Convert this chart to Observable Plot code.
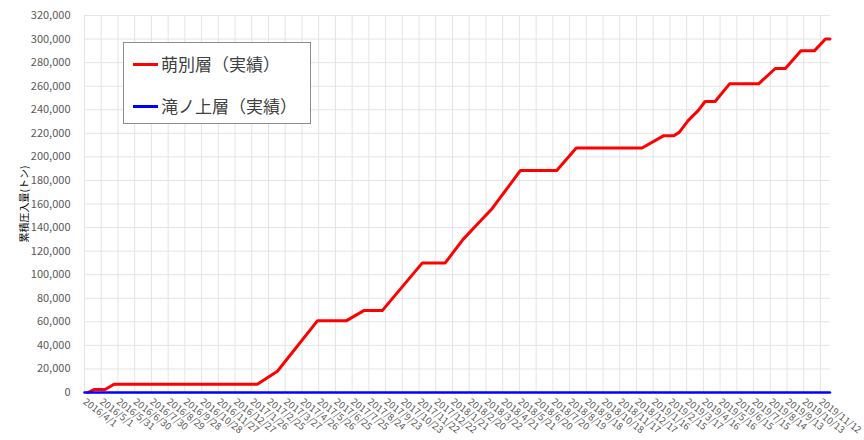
<!DOCTYPE html>
<html><head><meta charset="utf-8">
<script src="https://cdn.jsdelivr.net/npm/d3@7"></script>
<script src="https://cdn.jsdelivr.net/npm/@observablehq/plot@0.6"></script>
<style>
body{margin:0;background:#fff;}
#wrap{position:relative;width:864px;height:440px;}
#legend{position:absolute;left:123px;top:42px;width:188px;height:82px;border:1px solid #8c8c8c;background:#fff;font-family:"Noto Sans CJK JP",sans-serif;box-sizing:border-box;}
.item{position:absolute;left:9px;display:flex;align-items:center;font-size:17px;color:#404040;white-space:nowrap;line-height:20px;}
.sw{width:25px;height:3px;margin-right:3px;}
</style></head>
<body><div id="wrap"><div id="legend"></div></div>
<script>
const seriesNames = ["萌別層（実績）", "滝ノ上層（実績）"];
const seriesColors = ["#ff0000", "#0000ff"];

const moebetsuDates = [
  "2016-04-07","2016-04-18","2016-05-08","2016-05-24","2017-02-05","2017-03-13",
  "2017-05-24","2017-07-15","2017-08-15","2017-09-17","2017-11-28","2018-01-08",
  "2018-02-09","2018-03-15","2018-04-02","2018-05-23","2018-07-27","2018-08-31",
  "2018-12-27","2019-02-04","2019-02-22","2019-03-04","2019-03-20","2019-04-07",
  "2019-04-19","2019-05-07","2019-06-02","2019-07-24","2019-08-23","2019-09-10",
  "2019-10-08","2019-11-01","2019-11-21","2019-11-29"
];
const moebetsuValues = [
  0, 2500, 2500, 7000, 7000, 18000,
  61000, 61000, 69500, 69500, 110000, 110000,
  130000, 147000, 156000, 188500, 188500, 207500,
  207500, 218000, 218000, 221000, 231000, 239500,
  247000, 247000, 262000, 262000, 275000, 275000,
  290000, 290000, 300000, 300000
];
const takinoueDates = ["2016-04-01", "2019-11-29"];
const takinoueValues = [0, 0];

const xDomain = ["2016-04-01", "2019-11-30"];
const xTickLabels = [
  "2016/4/1","2016/5/1","2016/5/31","2016/6/30","2016/7/30","2016/8/29","2016/9/28",
  "2016/10/28","2016/11/27","2016/12/27","2017/1/26","2017/2/25","2017/3/27","2017/4/26",
  "2017/5/26","2017/6/25","2017/7/25","2017/8/24","2017/9/23","2017/10/23","2017/11/22",
  "2017/12/22","2018/1/21","2018/2/20","2018/3/22","2018/4/21","2018/5/21","2018/6/20",
  "2018/7/20","2018/8/19","2018/9/18","2018/10/18","2018/11/17","2018/12/17","2019/1/16",
  "2019/2/15","2019/3/17","2019/4/16","2019/5/16","2019/6/15","2019/7/15","2019/8/14",
  "2019/9/13","2019/10/13","2019/11/12"
];
const yTicks = [0,20000,40000,60000,80000,100000,120000,140000,160000,180000,200000,220000,240000,260000,280000,300000,320000];
const yLabel = "累積圧入量(トン)";

const parseLabel = d3.utcParse("%Y/%m/%d");
const xTicks = xTickLabels.map(s => parseLabel(s));
const labelMap = new Map(xTicks.map((d, i) => [+d, xTickLabels[i]]));
const parseISO = d3.utcParse("%Y-%m-%d");

const moebetsu = moebetsuDates.map((d, i) => ({date: parseISO(d), value: moebetsuValues[i]}));
const takinoue = takinoueDates.map((d, i) => ({date: parseISO(d), value: takinoueValues[i]}));

const chart = Plot.plot({
  width: 864,
  height: 440,
  marginLeft: 84,
  marginRight: 34,
  marginTop: 15,
  marginBottom: 48,
  style: {fontFamily: "'Noto Sans CJK JP', sans-serif", fontSize: "11px", color: "#595959", background: "#fff"},
  x: {type: "utc", domain: xDomain.map(parseISO)},
  y: {domain: [0, 320000]},
  marks: [
    Plot.gridX(xTicks, {stroke: "#e4e4e4", strokeOpacity: 1}),
    Plot.gridY(yTicks, {stroke: "#e4e4e4", strokeOpacity: 1}),
    Plot.axisY(yTicks, {tickSize: 0, tickPadding: 14, tickFormat: d3.format(","), fontSize: 11,
      label: yLabel, labelAnchor: "center", labelOffset: 64, labelArrow: "none"}),
    Plot.axisX(xTicks, {tickRotate: 38, tickSize: 0, tickPadding: 8, fontSize: 9.6,
      tickFormat: d => labelMap.get(+d), label: null}),
    Plot.line(moebetsu, {x: "date", y: "value", stroke: seriesColors[0], strokeWidth: 3}),
    Plot.line(takinoue, {x: "date", y: "value", stroke: seriesColors[1], strokeWidth: 2.5})
  ]
});
document.getElementById("wrap").prepend(chart);
d3.select(chart).selectAll('g[aria-label="y-axis label"] text').attr("fill", "#000").style("font-size", "10px");

const legend = document.getElementById("legend");
const legendTops = [11, 53];
seriesNames.forEach((name, i) => {
  const item = document.createElement("div");
  item.className = "item";
  item.style.top = legendTops[i] + "px";
  const sw = document.createElement("span");
  sw.className = "sw";
  sw.style.background = seriesColors[i];
  const t = document.createElement("span");
  t.textContent = name;
  item.append(sw, t);
  legend.append(item);
});
</script>
</body></html>
